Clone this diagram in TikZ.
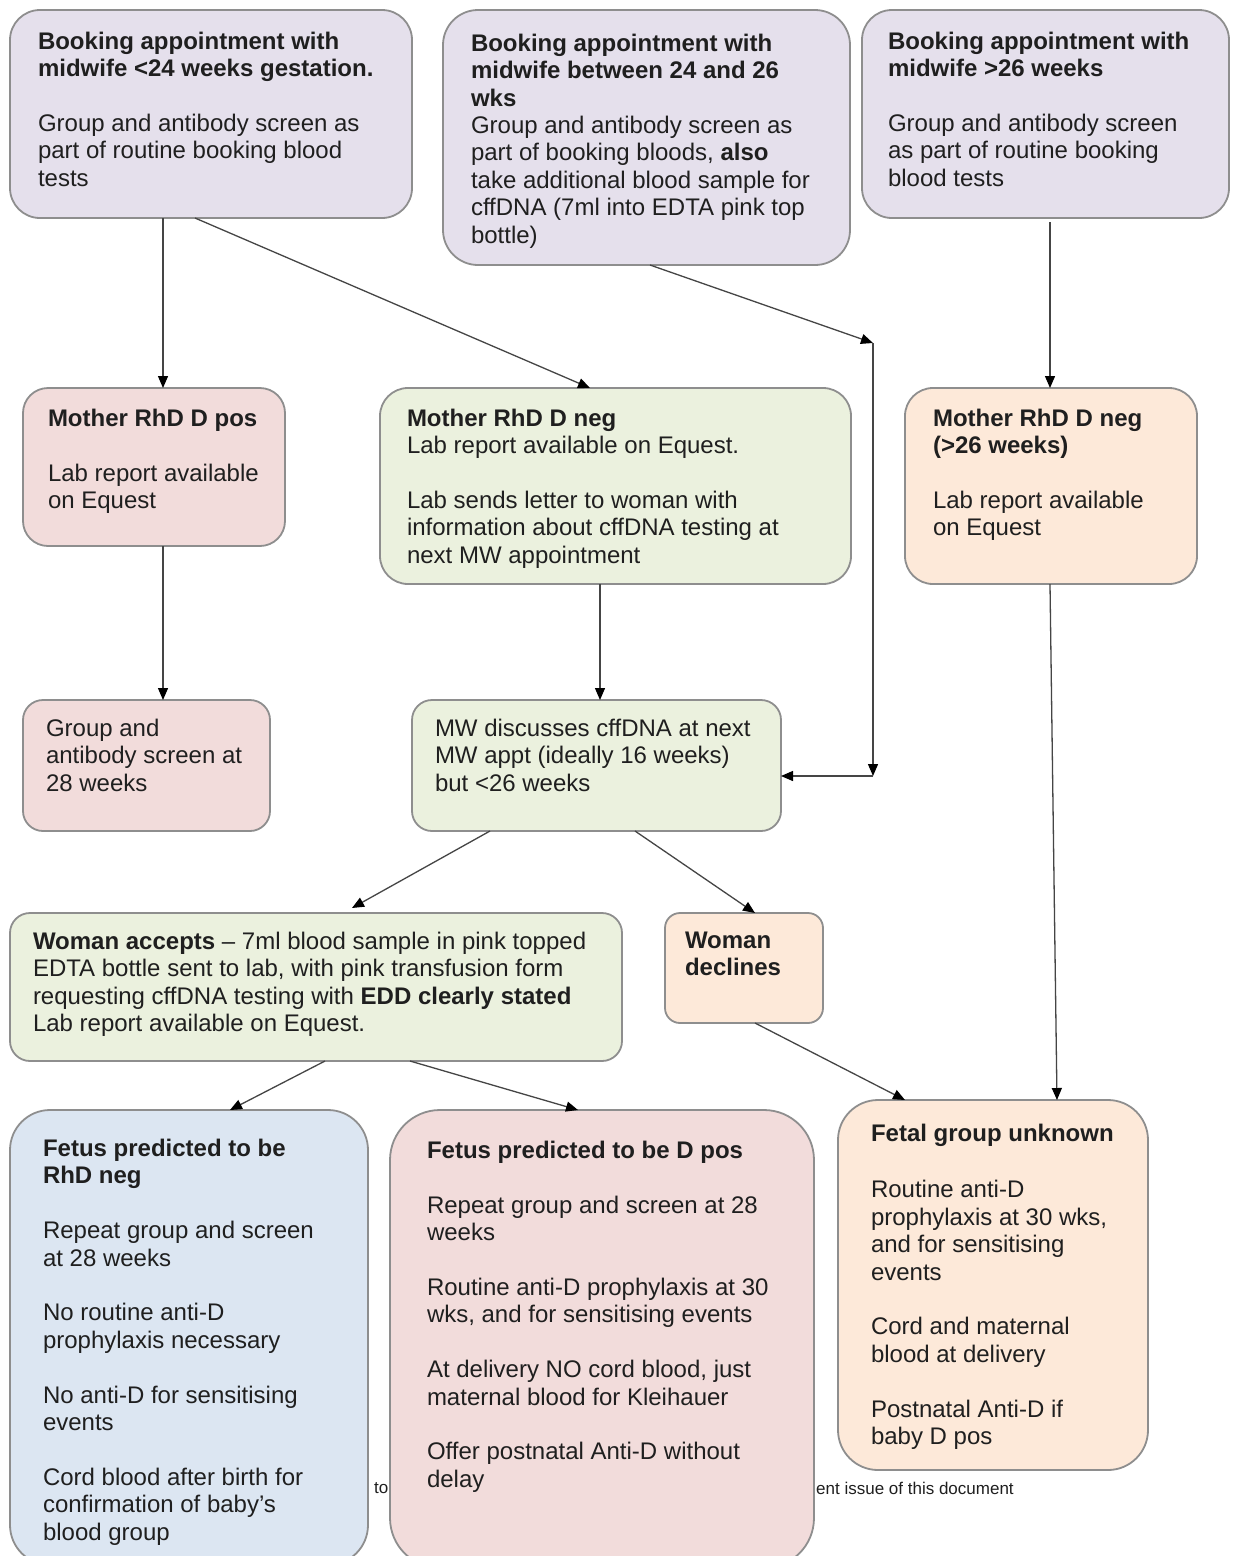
\documentclass[tikz,border=0pt]{standalone}
\usepackage{fontspec}
\setmainfont{Liberation Sans}
\usetikzlibrary{arrows.meta}
\definecolor{lav}{HTML}{E5E0EC}
\definecolor{pnk}{HTML}{F2DCDB}
\definecolor{grn}{HTML}{EBF1DE}
\definecolor{pch}{HTML}{FDE9D9}
\definecolor{blu}{HTML}{DCE6F2}
\definecolor{bordc}{HTML}{8E8E8E}
\definecolor{txtc}{HTML}{1F1F1F}
\definecolor{arrc}{HTML}{454545}
\begin{document}
\begin{tikzpicture}[x=1pt,y=-1pt,
 box/.style={draw=bordc, line width=1.8pt, rectangle, inner sep=0pt, outer sep=0pt},
 txt/.style={anchor=north west, inner sep=0pt, outer sep=0pt, align=left, font=\fontsize{24}{27.4}\selectfont, text=txtc},
 foot/.style={anchor=west, inner sep=0pt, font=\fontsize{17}{20}\selectfont, text=txtc},
 arr/.style={draw=arrc, line width=1.3pt, -{Triangle[length=12pt,width=10pt,color=black]}}]
\fill[white] (0,0) rectangle (1232,1556);
\useasboundingbox (0,0) rectangle (1232,1556);

% footer fragments (behind boxes)
\node[foot] (ft1) at (374,1488) {to};
\node[foot] (ft2) at (816,1488) {ent issue of this document};

% boxes
\node[box, fill=lav, rounded corners=30pt, minimum width=402pt, minimum height=208pt] (A) at (211,114) {};
\node[box, fill=lav, rounded corners=35pt, minimum width=407pt, minimum height=255pt] (B) at (646.5,137.5) {};
\node[box, fill=lav, rounded corners=30pt, minimum width=367pt, minimum height=208pt] (C) at (1045.5,114) {};
\node[box, fill=pnk, rounded corners=25pt, minimum width=262pt, minimum height=158pt] (D) at (154,467) {};
\node[box, fill=grn, rounded corners=28pt, minimum width=471pt, minimum height=196pt] (E) at (615.5,486) {};
\node[box, fill=pch, rounded corners=28pt, minimum width=292pt, minimum height=196pt] (F) at (1051,486) {};
\node[box, fill=pnk, rounded corners=20pt, minimum width=247pt, minimum height=131pt] (G) at (146.5,765.5) {};
\node[box, fill=grn, rounded corners=20pt, minimum width=369pt, minimum height=131pt] (H) at (596.5,765.5) {};
\node[box, fill=grn, rounded corners=20pt, minimum width=612pt, minimum height=148pt] (I) at (316,987) {};
\node[box, fill=pch, rounded corners=15pt, minimum width=158pt, minimum height=110pt] (J) at (744,968) {};
\node[box, fill=blu, rounded corners=40pt, minimum width=358pt, minimum height=455pt] (K) at (189,1337.5) {};
\node[box, fill=pnk, rounded corners=50pt, minimum width=424pt, minimum height=458pt] (L) at (602,1339) {};
\node[box, fill=pch, rounded corners=40pt, minimum width=310pt, minimum height=370pt] (M) at (993,1285) {};

% texts
\node[txt] (At) at (38,32) {\textbf{Booking appointment with}\\\textbf{midwife <24 weeks gestation.}\\[27.4pt]Group and antibody screen as\\part of routine booking blood\\tests};
\node[txt] (Bt) at (471,34) {\textbf{Booking appointment with}\\\textbf{midwife between 24 and 26}\\\textbf{wks}\\Group and antibody screen as\\part of booking bloods, \textbf{also}\\take additional blood sample for\\cffDNA (7ml into EDTA pink top\\bottle)};
\node[txt] (Ct) at (888,32) {\textbf{Booking appointment with}\\\textbf{midwife >26 weeks}\\[27.4pt]Group and antibody screen\\as part of routine booking\\blood tests};
\node[txt] (Dt) at (48,409) {\textbf{Mother RhD D pos}\\[27.4pt]Lab report available\\on Equest};
\node[txt] (Et) at (407,409) {\textbf{Mother RhD D neg}\\Lab report available on Equest.\\[27.4pt]Lab sends letter to woman with\\information about cffDNA testing at\\next MW appointment};
\node[txt] (Ft) at (933,409) {\textbf{Mother RhD D neg}\\\textbf{(>26 weeks)}\\[27.4pt]Lab report available\\on Equest};
\node[txt] (Gt) at (46,719) {Group and\\antibody screen at\\28 weeks};
\node[txt] (Ht) at (435,719) {MW discusses cffDNA at next\\MW appt (ideally 16 weeks)\\but <26 weeks};
\node[txt] (It) at (33,932) {\textbf{Woman accepts} – 7ml blood sample in pink topped\\EDTA bottle sent to lab, with pink transfusion form\\requesting cffDNA testing with \textbf{EDD clearly stated}\\Lab report available on Equest.};
\node[txt] (Jt) at (685,932) {\textbf{Woman}\\\textbf{declines}};
\node[txt] (Kt) at (43,1139) {\textbf{Fetus predicted to be}\\\textbf{RhD neg}\\[27.4pt]Repeat group and screen\\at 28 weeks\\[27.4pt]No routine anti-D\\prophylaxis necessary\\[27.4pt]No anti-D for sensitising\\events\\[27.4pt]Cord blood after birth for\\confirmation of baby’s\\blood group};
\node[txt] (Lt) at (427,1141) {\textbf{Fetus predicted to be D pos}\\[27.4pt]Repeat group and screen at 28\\weeks\\[27.4pt]Routine anti-D prophylaxis at 30\\wks, and for sensitising events\\[27.4pt]At delivery NO cord blood, just\\maternal blood for Kleihauer\\[27.4pt]Offer postnatal Anti-D without\\delay};
\node[txt] (Mt) at (871,1124) {\textbf{Fetal group unknown}\\[29pt]Routine anti-D\\prophylaxis at 30 wks,\\and for sensitising\\events\\[27.4pt]Cord and maternal\\blood at delivery\\[27.4pt]Postnatal Anti-D if\\baby D pos};

% connector corner points
\coordinate (bend1) at (873,343);
\coordinate (bend2) at (873,776);

% connectors
\draw[arr] ([xshift=-48pt]A.south) -- ([xshift=9pt]D.north);
\draw[arr] ([xshift=-16pt]A.south) -- ([xshift=-25.5pt]E.north);
\draw[arr] ([xshift=3.5pt]B.south) -- (bend1);
\draw[arr] (bend1) -- (bend2);
\draw[arr] (bend2) -- ([yshift=-10.5pt]H.east);
\draw[arr] ([xshift=4.5pt,yshift=-4pt]C.south) -- ([xshift=-1pt]F.north);
\draw[arr] ([xshift=9pt]D.south) -- ([xshift=16.5pt]G.north);
\draw[arr] ([xshift=-15.5pt]E.south) -- ([xshift=3.5pt]H.north);
\draw[arr] ([xshift=-1pt]F.south) -- ([xshift=64pt]M.north);
\draw[arr] ([xshift=-106.5pt]H.south) -- ([xshift=36pt,yshift=5pt]I.north);
\draw[arr] ([xshift=38.5pt]H.south) -- ([xshift=11pt]J.north);
\draw[arr] ([xshift=9pt]I.south) -- ([xshift=41pt]K.north);
\draw[arr] ([xshift=94pt]I.south) -- ([xshift=-24pt]L.north);
\draw[arr] ([xshift=11pt]J.south) -- ([xshift=-88pt]M.north);
\end{tikzpicture}
\end{document}
